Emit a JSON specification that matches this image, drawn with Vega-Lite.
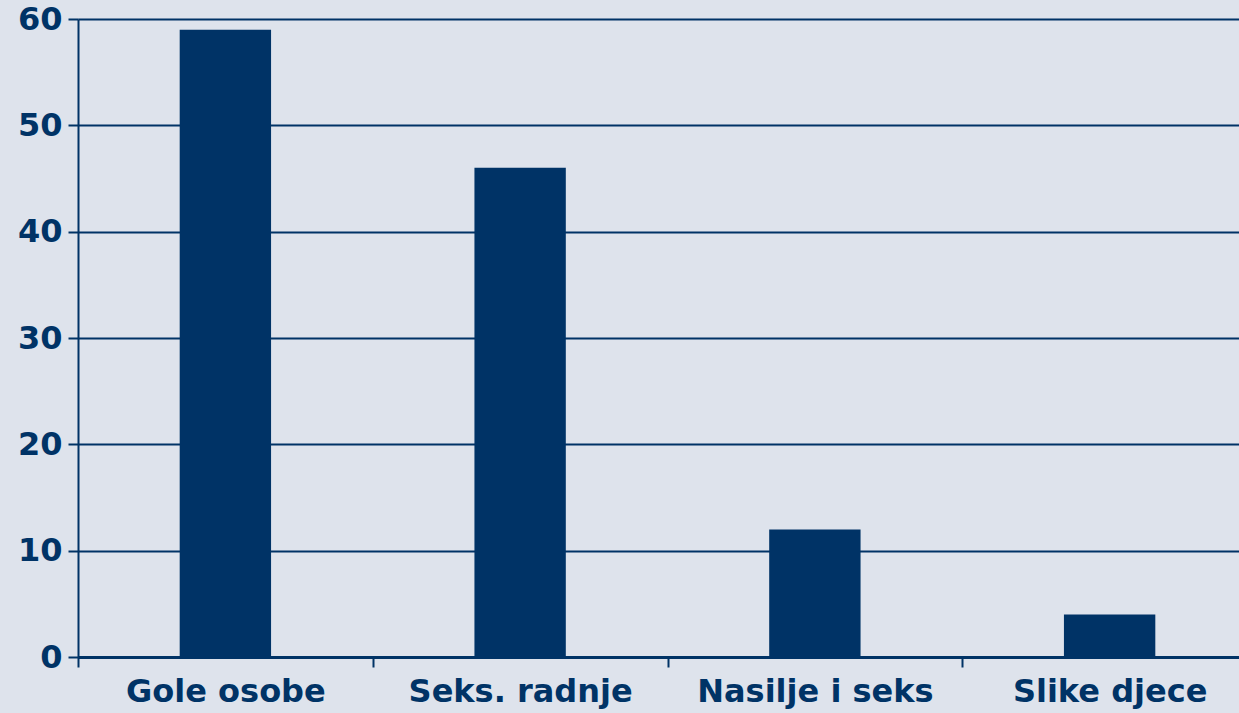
{
  "$schema": "https://vega.github.io/schema/vega-lite/v6.json",
  "width": 1161,
  "height": 638,
  "autosize": {"type": "none"},
  "padding": {"left": 78, "top": 19, "right": 0, "bottom": 56},
  "background": "#dee3ec",
  "config": {
    "view": {"stroke": null},
    "font": "DejaVu Sans"
  },
  "data": {
    "values": [
      {"kategorija": "Gole osobe", "vrijednost": 59},
      {"kategorija": "Seks. radnje", "vrijednost": 46},
      {"kategorija": "Nasilje i seks", "vrijednost": 12},
      {"kategorija": "Slike djece", "vrijednost": 4}
    ]
  },
  "mark": {"type": "bar", "color": "#003366", "width": {"band": 0.31}},
  "encoding": {
    "x": {
      "field": "kategorija",
      "type": "nominal",
      "sort": null,
      "scale": {"paddingInner": 0, "paddingOuter": 0, "range": [0, 1179]},
      "axis": {
        "title": null,
        "labelAngle": 0,
        "labelLimit": 0,
        "labelFont": "DejaVu Sans",
        "labelFontWeight": "bold",
        "labelFontSize": 32,
        "labelColor": "#003366",
        "labelPadding": 9,
        "tickBand": "extent",
        "tickColor": "#003366",
        "tickWidth": 2,
        "tickSize": 10,
        "domainColor": "#003366",
        "domainWidth": 3,
        "grid": false
      }
    },
    "y": {
      "field": "vrijednost",
      "type": "quantitative",
      "scale": {"domain": [0, 60], "nice": false},
      "axis": {
        "title": null,
        "values": [0, 10, 20, 30, 40, 50, 60],
        "labelFont": "DejaVu Sans",
        "labelFontWeight": "bold",
        "labelFontSize": 32,
        "labelColor": "#003366",
        "labelPadding": 6,
        "tickColor": "#003366",
        "tickWidth": 2,
        "tickSize": 10,
        "domainColor": "#003366",
        "domainWidth": 2,
        "grid": true,
        "gridColor": "#003366",
        "gridWidth": 2,
        "gridOpacity": 1
      }
    }
  }
}
